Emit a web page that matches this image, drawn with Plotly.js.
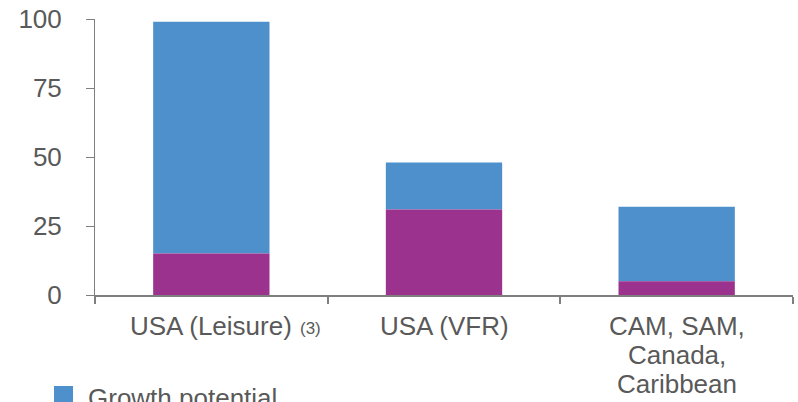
<!DOCTYPE html>
<html>
<head>
<meta charset="utf-8">
<script src="https://cdn.plot.ly/plotly-3.0.1.min.js"></script>
<style>
  html, body { margin: 0; padding: 0; background: #ffffff; }
  #chart { width: 798px; height: 402px; }
</style>
</head>
<body>
<div id="chart"></div>
<script>
// Market segments (category labels, one entry per line)
const categories = ["USA (Leisure)", "USA (VFR)", "CAM, SAM,<br>Canada,<br>Caribbean"];
const footnotes = ["(3)", "", ""];
// Current level (bottom segment) and total potential (top of each bar)
const currentValues = [15, 31, 5];
const totalValues = [99, 48, 32];
const growthValues = totalValues.map((t, i) => t - currentValues[i]);

const yTicks = [0, 25, 50, 75, 100];
const growthName = "Growth potential";

const textColor = "#595959";
const axisColor = "#7f7f7f";
const blue = "#4e90cc";
const purple = "#9b328e";
const fontFamily = "'Liberation Sans', Arial, sans-serif";

// Plot area in pixels, used to place the label annotations and legend key
const W = 798, H = 402;
const M = { l: 95, r: 5, t: 19, b: 107 };
const plotW = W - M.l - M.r;
const plotH = H - M.t - M.b;
const px2x = (px) => (px - M.l) / plotW;
const py2y = (py) => (H - M.b - py) / plotH;

const traces = [
  {
    type: "bar",
    x: categories,
    y: growthValues,
    base: currentValues,
    name: growthName,
    marker: { color: blue },
    width: 0.5,
    showlegend: false,
    hoverinfo: "skip"
  },
  {
    type: "bar",
    x: categories,
    y: currentValues,
    name: "Current",
    marker: { color: purple },
    width: 0.5,
    showlegend: false,
    hoverinfo: "skip"
  }
];

// Category labels: one annotation per line, with tighter line spacing
const annotations = [];
const lineGap = 29;
categories.forEach((cat, i) => {
  cat.split("<br>").forEach((line, j) => {
    annotations.push({
      x: cat, xref: "x", y: 0, yref: "paper",
      text: line, showarrow: false,
      xanchor: "center", yanchor: "top",
      yshift: -14 - j * lineGap,
      font: { family: fontFamily, size: 26, color: textColor }
    });
  });
  if (footnotes[i]) {
    annotations.push({
      x: cat, xref: "x", y: 0, yref: "paper",
      text: footnotes[i], showarrow: false,
      xanchor: "center", yanchor: "top",
      xshift: 99,
      yshift: -22,
      font: { family: fontFamily, size: 17, color: textColor }
    });
  }
});

// Legend entry for the growth segment
annotations.push({
  x: px2x(86), xref: "paper", y: py2y(381), yref: "paper",
  text: growthName, showarrow: false,
  xanchor: "left", yanchor: "top",
  font: { family: fontFamily, size: 26, color: textColor }
});

const shapes = [
  {
    type: "rect", xref: "paper", yref: "paper",
    x0: px2x(54), x1: px2x(73), y0: py2y(386), y1: py2y(406),
    fillcolor: blue, line: { width: 0 }
  }
];

const layout = {
  width: W,
  height: H,
  margin: M,
  paper_bgcolor: "#ffffff",
  plot_bgcolor: "#ffffff",
  barmode: "overlay",
  font: { family: fontFamily, color: textColor, size: 26 },
  showlegend: false,
  annotations: annotations,
  shapes: shapes,
  xaxis: {
    type: "category",
    range: [-0.5, 2.5],
    showline: true,
    linecolor: axisColor,
    linewidth: 2,
    ticks: "outside",
    tickson: "boundaries",
    ticklen: 7,
    tickwidth: 2,
    tickcolor: axisColor,
    showticklabels: false,
    showgrid: false,
    zeroline: false,
    automargin: false,
    fixedrange: true
  },
  yaxis: {
    range: [0, 100],
    tickvals: yTicks,
    ticktext: yTicks.map(String),
    showline: true,
    linecolor: axisColor,
    linewidth: 1,
    ticks: "outside",
    ticklen: 8,
    tickwidth: 1,
    tickcolor: axisColor,
    showgrid: false,
    zeroline: false,
    tickfont: { family: fontFamily, size: 26, color: textColor },
    ticklabelstandoff: 19,
    automargin: false,
    fixedrange: true
  }
};

Plotly.newPlot("chart", traces, layout, { displayModeBar: false, staticPlot: true });
</script>
</body>
</html>
